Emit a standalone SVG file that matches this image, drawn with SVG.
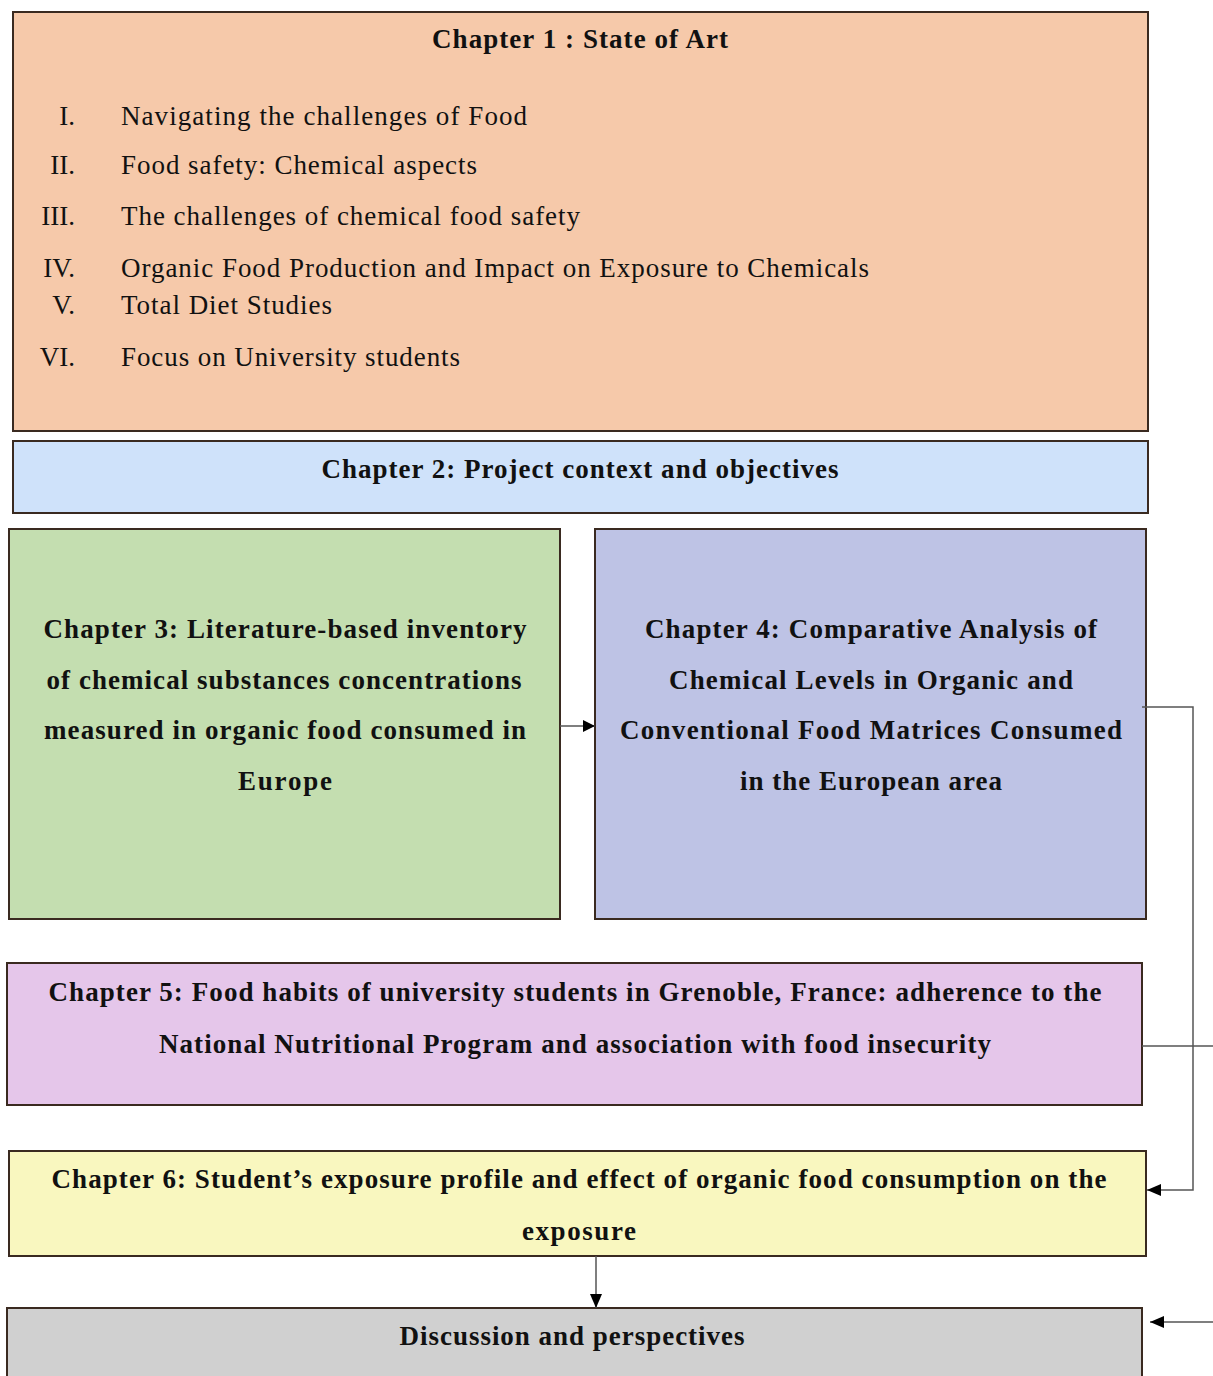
<svg xmlns="http://www.w3.org/2000/svg" width="1213" height="1376" viewBox="0 0 1213 1376">
<style>
.box{stroke:#3a2a20;stroke-width:2}
.t{font-family:"Liberation Serif","Times New Roman",serif;font-size:27px;fill:#111}
.b{font-weight:bold;text-anchor:middle}
.num{text-anchor:end}
.c{fill:none;stroke:#555;stroke-width:1.5}
</style>
<defs>
<marker id="ah" viewBox="0 0 10 10" refX="10" refY="5" markerWidth="12" markerHeight="12" markerUnits="userSpaceOnUse" orient="auto">
<path d="M0,0 L10,5 L0,10 z" fill="#000"/>
</marker>
<marker id="ah2" viewBox="0 0 14 12" refX="14" refY="6" markerWidth="14" markerHeight="12" markerUnits="userSpaceOnUse" orient="auto">
<path d="M0,0 L14,6 L0,12 z" fill="#000"/>
</marker>
</defs>
<rect width="1213" height="1376" fill="#fff"/>
<g id="ch1">
<rect class="box" x="13" y="12" width="1135" height="419" fill="#f6c9aa"/>
<text class="t b" x="580" y="48" textLength="296" lengthAdjust="spacing">Chapter 1 : State of Art</text>
<text class="t num" x="75" y="125">I.</text><text class="t" x="121" y="125" textLength="406" lengthAdjust="spacing">Navigating the challenges of Food</text>
<text class="t num" x="75" y="174">II.</text><text class="t" x="121" y="174" textLength="356" lengthAdjust="spacing">Food safety: Chemical aspects</text>
<text class="t num" x="75" y="225">III.</text><text class="t" x="121" y="225" textLength="459" lengthAdjust="spacing">The challenges of chemical food safety</text>
<text class="t num" x="75" y="277">IV.</text><text class="t" x="121" y="277" textLength="748" lengthAdjust="spacing">Organic Food Production and Impact on Exposure to Chemicals</text>
<text class="t num" x="75" y="314">V.</text><text class="t" x="121" y="314" textLength="211" lengthAdjust="spacing">Total Diet Studies</text>
<text class="t num" x="75" y="366">VI.</text><text class="t" x="121" y="366" textLength="339" lengthAdjust="spacing">Focus on University students</text>
</g>
<g id="ch2">
<rect class="box" x="13" y="441" width="1135" height="72" fill="#cfe2fa"/>
<text class="t b" x="580" y="478" textLength="517" lengthAdjust="spacing">Chapter 2: Project context and objectives</text>
</g>
<g id="ch3">
<rect class="box" x="9" y="529" width="551" height="390" fill="#c4deb0"/>
<text class="t b" x="285" y="638" textLength="483" lengthAdjust="spacing">Chapter 3: Literature-based inventory</text>
<text class="t b" x="284" y="689" textLength="475" lengthAdjust="spacing">of chemical substances concentrations</text>
<text class="t b" x="285" y="739" textLength="482" lengthAdjust="spacing">measured in organic food consumed in</text>
<text class="t b" x="285" y="790" textLength="94" lengthAdjust="spacing">Europe</text>
</g>
<g id="ch4">
<rect class="box" x="595" y="529" width="551" height="390" fill="#bec3e5"/>
<text class="t b" x="871" y="638" textLength="452" lengthAdjust="spacing">Chapter 4: Comparative Analysis of</text>
<text class="t b" x="871" y="689" textLength="404" lengthAdjust="spacing">Chemical Levels in Organic and</text>
<text class="t b" x="871" y="739" textLength="502" lengthAdjust="spacing">Conventional Food Matrices Consumed</text>
<text class="t b" x="871" y="790" textLength="262" lengthAdjust="spacing">in the European area</text>
</g>
<g id="ch5">
<rect class="box" x="7" y="963" width="1135" height="142" fill="#e5c6ea"/>
<text class="t b" x="575" y="1001" textLength="1053" lengthAdjust="spacing">Chapter 5: Food habits of university students in Grenoble, France: adherence to the</text>
<text class="t b" x="575" y="1053" textLength="832" lengthAdjust="spacing">National Nutritional Program and association with food insecurity</text>
</g>
<g id="ch6">
<rect class="box" x="9" y="1151" width="1137" height="105" fill="#f9f7bf"/>
<text class="t b" x="579" y="1188" textLength="1055" lengthAdjust="spacing">Chapter 6: Student’s exposure profile and effect of organic food consumption on the</text>
<text class="t b" x="579" y="1240" textLength="114" lengthAdjust="spacing">exposure</text>
</g>
<g id="discussion">
<rect class="box" x="7" y="1308" width="1135" height="80" fill="#d0d0d0" stroke="#666"/>
<text class="t b" x="572" y="1345" textLength="345" lengthAdjust="spacing">Discussion and perspectives</text>
</g>
<g id="connectors">
<line class="c" x1="560" y1="726" x2="595" y2="726" marker-end="url(#ah)"/>
<polyline class="c" points="1142,707 1193,707 1193,1190 1147,1190" marker-end="url(#ah2)"/>
<line class="c" x1="1142" y1="1046" x2="1213" y2="1046"/>
<line class="c" x1="1213" y1="1322" x2="1150" y2="1322" marker-end="url(#ah2)"/>
<line class="c" x1="596" y1="1256" x2="596" y2="1308" marker-end="url(#ah2)"/>
</g>
</svg>
